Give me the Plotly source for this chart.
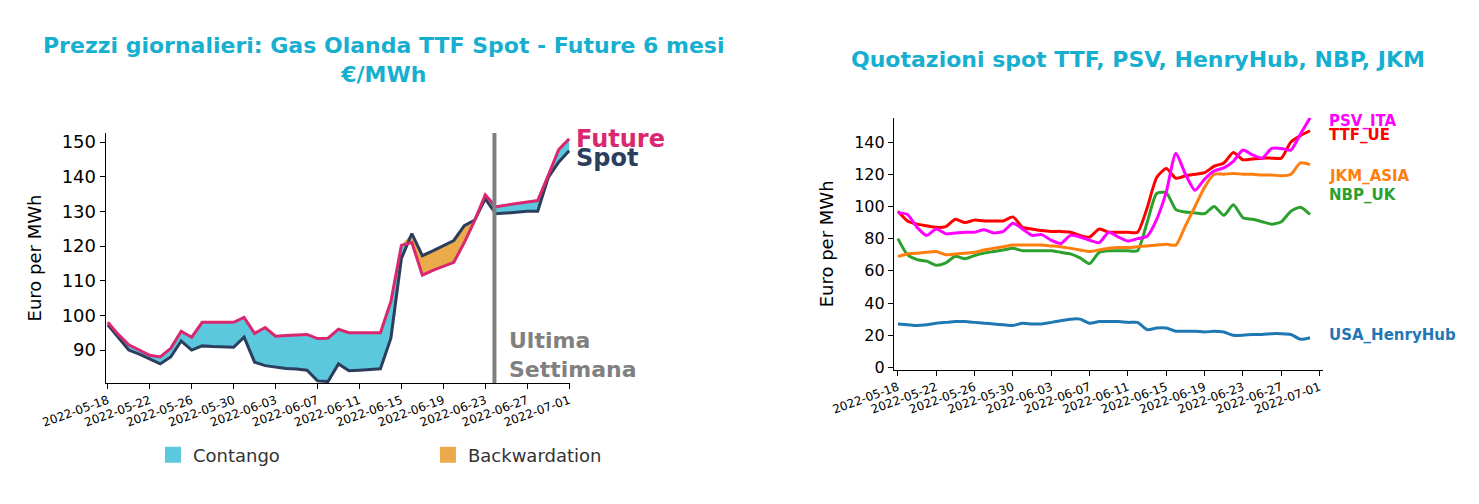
import pandas as pd
import plotly.graph_objects as go

# Left chart: TTF spot vs 6-month future
left_dates = pd.date_range("2022-05-18", "2022-07-01", freq="D")
future = [98, 94.5, 91.5, 90, 88.5, 88, 90.5, 95.4, 93.7, 98, 98, 98, 98, 99.4, 94.8,
          96.5, 94, 94.2, 94.3, 94.5, 93.3, 93.4, 96, 95, 95, 95, 95, 104, 120.2, 121,
          111.6, 113, 114.2, 115.3, 121, 127.4, 134.8, 131.3, 131.8, 132.2, 132.7, 133.1,
          140.3, 147.8, 150.9]
spot = [97.3, 93.5, 90, 88.8, 87.5, 86, 88, 92.6, 90, 91.2, 91, 90.9, 90.8, 93.7, 86.5,
        85.5, 85, 84.7, 84.5, 84.2, 81.1, 80.9, 86, 84, 84.2, 84.4, 84.6, 93.4, 116.4, 123.6,
        117.2, 118.6, 120, 121.6, 125.9, 127.5, 133.6, 129.3, 129.5, 129.8, 130, 130,
        139.7, 144.2, 147.5]

# Right chart: spot quotations
right_dates = pd.date_range("2022-05-18", "2022-06-30", freq="D")
ttf = [97, 91, 89, 88, 87, 87.5, 92, 90, 91.5, 91, 91, 91, 93.5, 87, 86, 85, 84.5, 84.5,
       84, 82, 81, 86, 84, 84, 84, 84, 99, 118, 123.5, 117.5, 119, 120, 121, 125, 127,
       133.5, 129, 129.5, 130, 130, 130, 140, 144, 147]
psv = [96, 95, 87, 82, 86, 83, 83.5, 84, 84, 85.5, 83.5, 84.5, 89.5, 86, 82, 82.5, 79, 77,
       82, 81, 79, 77.5, 84, 81, 78.5, 80, 81.5, 92, 109, 133, 120, 110, 117, 122, 124, 128,
       135, 132, 130, 136, 136, 135, 145, 155]
jkm = [69, 70.5, 71, 71.5, 72, 70, 70.5, 71, 71.5, 73, 74, 75, 76, 76, 76, 76, 75.5, 75,
       74, 73, 72, 73, 74, 74.5, 74.5, 75, 75.5, 76, 76.5, 76, 88, 100, 112, 120, 120,
       120.5, 120, 120, 119.5, 119.5, 119, 120, 127, 126]
nbp = [80, 70, 67, 66, 63.5, 65, 69, 67.5, 69.5, 71, 72, 73, 74, 72.5, 72.5, 72.5, 72.5,
       71.5, 70.5, 68, 64.5, 71.5, 72.5, 72.5, 72.5, 72.5, 90, 108, 108.5, 98, 96.5, 96,
       95.5, 100, 94.5, 101, 93, 92, 90.5, 89, 90.5, 97, 99.5, 95]
henryhub = [27, 26.5, 26, 26.5, 27.5, 28, 28.5, 28.5, 28, 27.5, 27, 26.5, 26, 27.5, 27,
            27, 28, 29, 30, 30, 27.5, 28.5, 28.5, 28.5, 28, 28, 23.5, 24.5, 24.5, 22.5,
            22.5, 22.5, 22, 22.5, 22, 20, 20, 20.5, 20.5, 21, 21, 20.5, 17.5, 18.5]

right_series = [
    ("USA_HenryHub", henryhub, "#1f77b4", 327),
    ("NBP_UK", nbp, "#2ca02c", 187),
    ("JKM_ASIA", jkm, "#ff7f0e", 168),
    ("TTF_UE", ttf, "#ff0000", 127),
    ("PSV_ITA", psv, "#ff00ff", 113),
]

TITLE_COLOR = "#17afcf"
CONTANGO = "#5bc8de"
BACKWARD = "#ebab4b"
upper = [max(s, f) for s, f in zip(spot, future)]

fig = go.Figure()
# contango: area between spot and max(spot, future)
fig.add_trace(go.Scatter(x=left_dates, y=spot, mode="lines", line=dict(width=0),
                         showlegend=False, hoverinfo="skip"))
fig.add_trace(go.Scatter(x=left_dates, y=upper, mode="lines", line=dict(width=0),
                         fill="tonexty", fillcolor=CONTANGO, showlegend=False))
# backwardation: area between future and max(spot, future)
fig.add_trace(go.Scatter(x=left_dates, y=future, mode="lines", line=dict(width=0),
                         showlegend=False, hoverinfo="skip"))
fig.add_trace(go.Scatter(x=left_dates, y=upper, mode="lines", line=dict(width=0),
                         fill="tonexty", fillcolor=BACKWARD, showlegend=False))
fig.add_trace(go.Scatter(x=left_dates, y=spot, mode="lines", name="Spot",
                         line=dict(color="#2c3e5e", width=3), showlegend=False))
fig.add_trace(go.Scatter(x=left_dates, y=future, mode="lines", name="Future",
                         line=dict(color="#d9286f", width=3), showlegend=False))
# legend-only square entries
for name, color in [("Contango", CONTANGO), ("Backwardation", BACKWARD)]:
    fig.add_trace(go.Scatter(x=[None], y=[None], mode="markers", name=name,
                             marker=dict(symbol="square", size=24, color=color)))

for name, vals, color, _ in right_series:
    fig.add_trace(go.Scatter(x=right_dates, y=vals, mode="lines", name=name,
                             line=dict(color=color, width=3, shape="spline", smoothing=0.6),
                             xaxis="x2", yaxis="y2", showlegend=False))

axis_common = dict(showline=True, linecolor="black", ticks="outside", ticklen=5,
                   tickcolor="black", showgrid=False, zeroline=False)
fig.update_layout(
    width=1479, height=504,
    paper_bgcolor="white", plot_bgcolor="white",
    margin=dict(l=0, r=0, t=0, b=0, autoexpand=False),
    font=dict(family="DejaVu Sans", color="black"),
    xaxis=dict(domain=[0.066, 0.38], range=["2022-05-17 19:00", "2022-07-01 02:00"],
               tick0="2022-05-18", dtick=4 * 86400000, tickformat="%Y-%m-%d",
               tickangle=-20, tickfont=dict(size=12), anchor="y", **axis_common),
    yaxis=dict(domain=[0.256, 0.752], range=[80.5, 152.6], dtick=10,
               tickfont=dict(size=18), anchor="x",
               title=dict(text="Euro per MWh", font=dict(size=18)), **axis_common),
    xaxis2=dict(domain=[0.599, 0.889], range=["2022-05-17 14:00", "2022-07-01 08:00"],
                tick0="2022-05-18", dtick=4 * 86400000, tickformat="%Y-%m-%d",
                tickangle=-20, tickfont=dict(size=12), anchor="y2", **axis_common),
    yaxis2=dict(domain=[0.282, 0.782], range=[-1.5, 155], dtick=20,
                tickfont=dict(size=16), anchor="x2",
                title=dict(text="Euro per MWh", font=dict(size=18)), **axis_common),
    legend=dict(orientation="h", x=0.098, y=0.113, xanchor="left", yanchor="middle",
                traceorder="normal", font=dict(size=18, color="#333"), entrywidth=230),
    shapes=[dict(type="line", xref="x", yref="paper", x0="2022-06-23 21:00",
                 x1="2022-06-23 21:00", y0=0.256, y1=0.752,
                 line=dict(color="grey", width=4))],
)

annotations = [
    dict(text="<b>Prezzi giornalieri: Gas Olanda TTF Spot - Future 6 mesi<br>€/MWh</b>",
         x=376, y=52, xanchor="center", font=dict(size=22, color=TITLE_COLOR)),
    dict(text="<b>Quotazioni spot TTF, PSV, HenryHub, NBP, JKM</b>",
         x=1130, y=52, xanchor="center", font=dict(size=22, color=TITLE_COLOR)),
    dict(text="<b>Future</b>", x=566, y=131, xanchor="left", font=dict(size=24, color="#d9286f")),
    dict(text="<b>Spot</b>", x=566, y=150, xanchor="left", font=dict(size=24, color="#2c3e5e")),
    dict(text="<b>Ultima<br>Settimana</b>", x=499, y=347, xanchor="left",
         font=dict(size=22, color="grey"), align="left"),
]
for name, _, color, ypix in right_series:
    annotations.append(dict(text=f"<b>{name}</b>", x=1319, y=ypix, xanchor="left",
                            font=dict(size=15, color=color)))
for a in annotations:
    a.update(xref="paper", yref="paper", showarrow=False, yanchor="middle")
    a["x"] = a["x"] / 1479
    a["y"] = 1 - a["y"] / 504
fig.update_layout(annotations=annotations)

fig.write_html("out.html")
